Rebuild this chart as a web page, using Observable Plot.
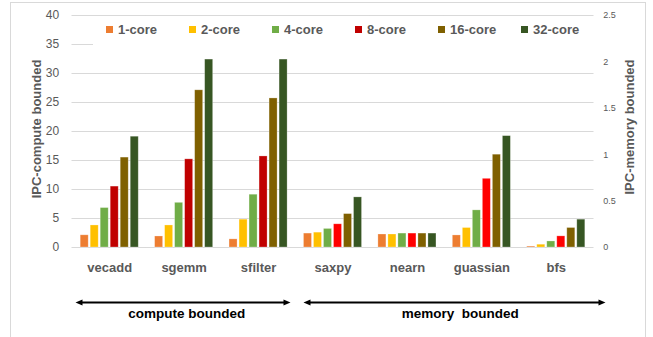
<!DOCTYPE html>
<html>
<head>
<meta charset="utf-8">
<script src="https://cdn.jsdelivr.net/npm/d3@7"></script>
<script src="https://cdn.jsdelivr.net/npm/@observablehq/plot@0.6"></script>
<style>
  html, body { margin: 0; padding: 0; background: #fff; }
  #wrap { position: relative; width: 653px; height: 337px; overflow: hidden; font-family: "Liberation Sans", Arial, sans-serif; }
  #frame { position: absolute; left: 10px; top: 2px; width: 636px; height: 360px; border: 1px solid #d9d9d9; box-sizing: border-box; }
  #main { position: absolute; left: 0; top: 0; }
  #annot { position: absolute; left: 0; top: 282px; }
  #legend { position: absolute; left: 93px; top: 19px; width: 502px; height: 28px; background: #fff; }
  .item { position: absolute; top: 0; height: 28px; }
  .sw { position: absolute; left: 0; top: 7px; width: 7px; height: 7px; }
  .lab { position: absolute; left: 12px; top: 2px; font-size: 13px; font-weight: bold; color: #595959; line-height: 17px; white-space: nowrap; }
  .ytitle { position: absolute; font-size: 13px; font-weight: bold; color: #595959; white-space: nowrap; transform: translate(-50%, -50%) rotate(-90deg); }
  svg text { white-space: pre; }
</style>
</head>
<body>
<div id="wrap">
  <div id="frame"></div>
  <div id="main"></div>
  <div id="legend"></div>
  <div id="annot"></div>
  <div class="ytitle" id="ytl" style="left:36px; top:129px;"></div>
  <div class="ytitle" id="ytr" style="left:629px; top:127px;"></div>
</div>
<script>
// ---------- data ----------
const categories = ["vecadd", "sgemm", "sfilter", "saxpy", "nearn", "guassian", "bfs"];
const computeCats = ["vecadd", "sgemm", "sfilter"];
const memoryCats = ["saxpy", "nearn", "guassian", "bfs"];
const series = ["1-core", "2-core", "4-core", "8-core", "16-core", "32-core"];

// compute-bounded (left axis)
const vecadd  = [2.1, 3.8, 6.8, 10.5, 15.5, 19.1];
const sgemm   = [1.9, 3.8, 7.7, 15.2, 27.1, 32.4];
const sfilter = [1.4, 4.8, 9.1, 15.7, 25.7, 32.4];
// memory-bounded (right axis)
const saxpy    = [0.15, 0.16, 0.20, 0.25, 0.36, 0.54];
const nearn    = [0.14, 0.14, 0.15, 0.15, 0.15, 0.15];
const guassian = [0.13, 0.21, 0.40, 0.74, 1.00, 1.20];
const bfs      = [0.01, 0.03, 0.065, 0.12, 0.21, 0.30];

const leftTicks = [0, 5, 10, 15, 20, 25, 30, 35, 40];
const rightTicks = [0, 0.5, 1, 1.5, 2, 2.5];
const leftTitle = "IPC-compute bounded";
const rightTitle = "IPC-memory bounded";
const spans = [
  {label: "compute bounded", from: "vecadd", to: "sfilter"},
  {label: "memory  bounded", from: "saxpy", to: "bfs"}
];

const colors = ["#ED7D31", "#FFC000", "#70AD47", "#C00000", "#7F6000", "#375623"];
const memory8Color = "#FF0000";

// ---------- build ----------
const valuesByCat = {vecadd, sgemm, sfilter, saxpy, nearn, guassian, bfs};
const leftMax = leftTicks[leftTicks.length - 1];
const rightMax = rightTicks[rightTicks.length - 1];
const ratio = leftMax / rightMax;
const mem8Key = "8-core (memory)";

const rows = categories.flatMap(cat => valuesByCat[cat].map((v, i) => ({
  category: cat,
  series: series[i],
  value: v,
  group: memoryCats.includes(cat) ? "memory" : "compute"
})));

const W = 653, H = 337;
const mL = 72, mR = 60, mT = 15, mB = 90;
const fxPadInner = 0.22, fxPadOuter = 0.11;
const step = (W - mL - mR) / (categories.length - fxPadInner + 2 * fxPadOuter);
const halfGap = step * fxPadInner / 2;
const font = "'Liberation Sans', Arial, sans-serif";

const main = Plot.plot({
  width: W, height: H,
  marginLeft: mL, marginRight: mR, marginTop: mT, marginBottom: mB,
  style: {fontFamily: font, color: "#595959", background: "transparent", overflow: "visible"},
  fx: {domain: categories, paddingInner: fxPadInner, paddingOuter: fxPadOuter, round: false, label: null},
  x: {domain: series, paddingInner: 0.2, paddingOuter: 0, round: false, axis: null},
  y: {domain: [0, leftMax]},
  color: {domain: [...series, mem8Key], range: [...colors, memory8Color]},
  marks: [
    Plot.ruleY(leftTicks, {stroke: "#d9d9d9", strokeWidth: 1, insetLeft: -halfGap - 0.5, insetRight: -halfGap - 0.5}),
    Plot.barY(rows, {
      fx: "category", x: "series",
      y: d => d.group === "memory" ? d.value * ratio : d.value,
      fill: d => (d.group === "memory" && d.series === "8-core") ? mem8Key : d.series,
      stroke: "#ffffff", strokeOpacity: 0.35, strokeWidth: 0.75
    }),
    Plot.axisY({anchor: "left", ticks: leftTicks, tickSize: 0, tickPadding: 21.5, fontSize: 12, label: null}),
    Plot.axisY({anchor: "right", ticks: rightTicks.map(v => v * ratio), tickFormat: d => String(d / ratio), tickSize: 0, tickPadding: 18, fontSize: 9, label: null}),
    Plot.axisFx({anchor: "bottom", tickSize: 0, tickPadding: 15, fontSize: 13, fontWeight: "bold", label: null})
  ]
});
document.getElementById("main").appendChild(main);

// annotation strip: arrows + group labels (x scale = category positions)
const spanStyle = [
  {insetLeft: 3, insetRight: 5.3, dx: 2.5},
  {insetLeft: 7.7, insetRight: -12, dx: 15.6}
];
const annMarks = spans.flatMap((s, k) => {
  const st = spanStyle[k];
  const d = [s];
  const x1 = v => categories.indexOf(v.from);
  const x2 = v => categories.indexOf(v.to) + 1;
  return [
    Plot.ruleY(d, {y: null, x1, x2, insetLeft: st.insetLeft + 4, insetRight: st.insetRight + 4, stroke: "#000", strokeWidth: 2}),
    Plot.vector(d, {x: x1, dx: st.insetLeft, length: 7, r: 3, rotate: -90, shape: "spike", anchor: "end", fill: "#000", stroke: "none"}),
    Plot.vector(d, {x: x2, dx: -st.insetRight, length: 7, r: 3, rotate: 90, shape: "spike", anchor: "end", fill: "#000", stroke: "none"}),
    Plot.text(d, {x: v => (x1(v) + x2(v)) / 2, text: "label", dy: 11, dx: st.dx, fontSize: 13.5, fontWeight: "bold", fill: "#000"})
  ];
});
const annot = Plot.plot({
  width: W, height: 40,
  marginLeft: mL, marginRight: mR, marginTop: 0, marginBottom: 0,
  style: {fontFamily: font, background: "transparent", overflow: "visible"},
  x: {domain: [0, categories.length], axis: null},
  marks: annMarks
});
document.getElementById("annot").appendChild(annot);

// legend
const legend = document.getElementById("legend");
series.forEach((s, i) => {
  const it = document.createElement("div");
  it.className = "item";
  it.style.left = (13 + i * 83) + "px";
  const sw = document.createElement("div");
  sw.className = "sw";
  sw.style.background = colors[i];
  const lb = document.createElement("div");
  lb.className = "lab";
  lb.textContent = s;
  it.appendChild(sw); it.appendChild(lb);
  legend.appendChild(it);
});

document.getElementById("ytl").textContent = leftTitle;
document.getElementById("ytr").textContent = rightTitle;
</script>
</body>
</html>
